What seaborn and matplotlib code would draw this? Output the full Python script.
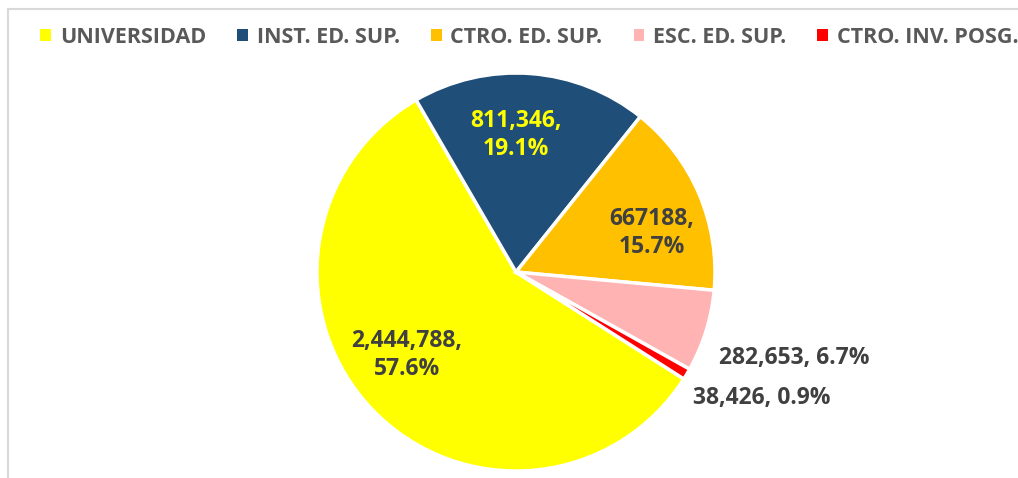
import matplotlib.pyplot as plt
import matplotlib.patches as mpatches
import seaborn as sns

# Data
categories = ['UNIVERSIDAD', 'INST. ED. SUP.', 'CTRO. ED. SUP.', 'ESC. ED. SUP.', 'CTRO. INV. POSG.']
values = [2444788, 811346, 667188, 282653, 38426]
value_labels = ['2,444,788,\n57.6%', '811,346,\n19.1%', '667188,\n15.7%', '282,653, 6.7%', '38,426, 0.9%']
colors = ['#FFFF00', '#1F4E79', '#FFC000', '#FFB3B3', '#FF0000']

sns.set_theme(style='white')
plt.rcParams['font.family'] = ['Open Sans', 'DejaVu Sans']

fig = plt.figure(figsize=(10.18, 4.78), dpi=100)
ax = fig.add_axes([0.3114, 0.0146, 398 / 1018, 398 / 478])

wedges, _ = ax.pie(values, colors=colors, startangle=-32.5, counterclock=False,
                   radius=1, wedgeprops=dict(edgecolor='white', linewidth=2.5))
ax.set_xlim(-1, 1)
ax.set_ylim(-1, 1)
ax.set_aspect('auto')
ax.axis('off')

# label placement (data units)
label_pos = [(-0.548, -0.417), (0.0, 0.688), (0.683, 0.196), (1.397, -0.432), (1.236, -0.633)]
label_colors = ['#404040', '#FFFF00', '#404040', '#404040', '#404040']
for txt, (x, y), c in zip(value_labels, label_pos, label_colors):
    ax.text(x, y, txt, ha='center', va='center', fontsize=16.5, fontweight='bold',
            color=c, linespacing=1.25)

leg = fig.legend(wedges, categories, loc='center', bbox_to_anchor=(0.52, 0.922), ncol=5,
                 frameon=False, handlelength=0.5, handleheight=0.5, handletextpad=0.4,
                 columnspacing=1.45, prop={'weight': 'bold', 'size': 15.5})
for t in leg.get_texts():
    t.set_color('#595959')
for h in leg.legend_handles:
    h.set_edgecolor('none')

# chart border
fig.patches.append(mpatches.Rectangle((8 / 1018, -0.05), 1.1, 1 - 9 / 478 + 0.05,
                                      transform=fig.transFigure, fill=False,
                                      edgecolor='#D9D9D9', linewidth=1.5))

fig.savefig('out.png', dpi=100)
